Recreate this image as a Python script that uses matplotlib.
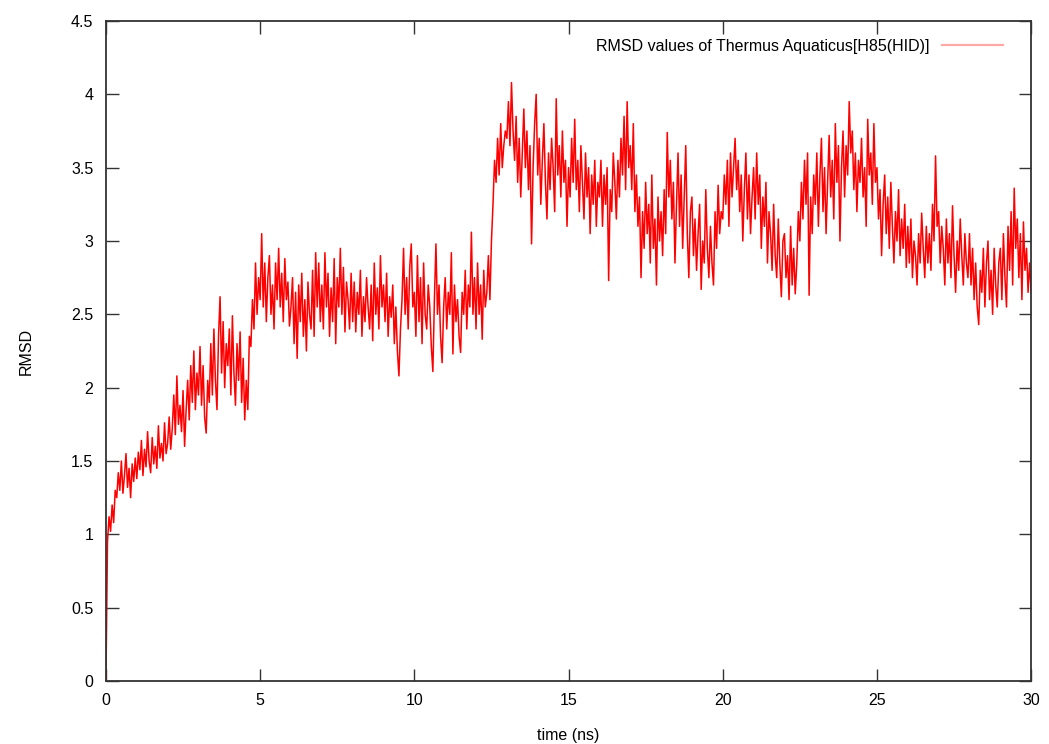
import numpy as np
import matplotlib
matplotlib.use("Agg")
import matplotlib.pyplot as plt

plt.rcParams['font.family'] = ['Liberation Sans', 'DejaVu Sans']

# RMSD, one value per 0.05 ns (each row is 1 ns)
rmsd = [
    0.00, 0.95, 1.12, 1.02, 1.20, 1.08, 1.30, 1.25, 1.42, 1.30, 1.50, 1.28, 1.40, 1.55, 1.32, 1.45, 1.25, 1.48, 1.36, 1.52,
    1.38, 1.56, 1.44, 1.64, 1.40, 1.58, 1.46, 1.70, 1.50, 1.42, 1.66, 1.48, 1.60, 1.45, 1.74, 1.52, 1.62, 1.50, 1.76, 1.55,
    1.62, 1.80, 1.58, 1.72, 1.95, 1.68, 2.08, 1.75, 1.88, 1.70, 1.98, 1.60, 1.85, 2.05, 1.78, 2.15, 1.90, 2.25, 1.85, 2.10,
    1.95, 2.28, 1.88, 2.15, 1.80, 1.69, 2.05, 1.90, 2.30, 1.95, 2.40, 2.05, 1.85, 2.35, 2.62, 2.10, 2.45, 2.00, 2.30, 2.15,
    2.40, 1.95, 2.49, 2.10, 1.88, 2.30, 2.05, 2.38, 1.90, 2.20, 1.78, 2.05, 1.85, 2.35, 2.28, 2.60, 2.40, 2.85, 2.50, 2.75,
    2.60, 3.05, 2.55, 2.85, 2.45, 2.75, 2.90, 2.50, 2.70, 2.40, 2.85, 2.60, 2.95, 2.55, 2.78, 2.45, 2.88, 2.60, 2.72, 2.42,
    2.55, 2.75, 2.30, 2.65, 2.20, 2.70, 2.45, 2.78, 2.35, 2.60, 2.25, 2.72, 2.50, 2.40, 2.80, 2.35, 2.92, 2.55, 2.85, 2.45,
    2.70, 2.40, 2.92, 2.55, 2.78, 2.35, 2.68, 2.45, 2.88, 2.30, 2.75, 2.55, 2.95, 2.50, 2.82, 2.38, 2.72, 2.60, 2.40, 2.78,
    2.45, 2.72, 2.38, 2.65, 2.50, 2.80, 2.35, 2.62, 2.45, 2.75, 2.55, 2.40, 2.70, 2.32, 2.85, 2.50, 2.68, 2.40, 2.90, 2.55,
    2.70, 2.45, 2.78, 2.35, 2.62, 2.48, 2.70, 2.30, 2.55, 2.25, 2.08, 2.40, 2.60, 2.95, 2.50, 2.75, 2.40, 2.82, 2.98, 2.55,
    2.65, 2.35, 2.90, 2.45, 2.75, 2.30, 2.85, 2.50, 2.40, 2.70, 2.55, 2.28, 2.11, 2.60, 2.98, 2.50, 2.70, 2.35, 2.17, 2.55,
    2.75, 2.40, 2.65, 2.50, 2.92, 2.23, 2.70, 2.45, 2.60, 2.35, 2.24, 2.65, 2.50, 2.80, 2.40, 2.70, 2.55, 3.06, 2.50, 2.75,
    2.40, 2.85, 2.50, 2.70, 2.33, 2.80, 2.55, 2.65, 2.90, 2.60, 3.00, 3.25, 3.55, 3.40, 3.70, 3.45, 3.80, 3.50, 3.65, 3.75,
    3.70, 3.95, 3.65, 4.08, 3.75, 3.55, 3.85, 3.40, 3.70, 3.30, 3.60, 3.90, 3.50, 3.75, 3.35, 3.65, 2.98, 3.50, 3.80, 4.00,
    3.45, 3.70, 3.25, 3.55, 3.80, 3.40, 3.15, 3.60, 3.35, 3.70, 3.50, 3.20, 3.97, 3.45, 3.65, 3.30, 3.75, 3.40, 3.55, 3.10,
    3.50, 3.30, 3.70, 3.40, 3.83, 3.35, 3.55, 3.20, 3.65, 3.40, 3.15, 3.60, 3.30, 3.50, 3.05, 3.45, 3.25, 3.55, 3.10, 3.40,
    3.30, 3.55, 3.10, 3.45, 3.25, 3.50, 2.73, 3.35, 3.20, 3.60, 3.40, 3.15, 3.55, 3.30, 3.70, 3.45, 3.85, 3.35, 3.95, 3.50,
    3.65, 3.35, 3.80, 3.20, 3.45, 3.10, 3.30, 2.75, 3.20, 2.95, 3.40, 3.05, 3.25, 2.85, 3.45, 2.95, 3.15, 2.70, 3.30, 3.00,
    3.20, 2.90, 3.35, 3.05, 3.74, 3.30, 3.55, 3.15, 3.40, 2.85, 3.25, 3.60, 3.10, 3.45, 2.95, 3.30, 3.65, 3.05, 2.75, 3.20,
    3.30, 2.90, 3.15, 2.80, 3.05, 3.25, 2.67, 3.00, 2.85, 3.35, 2.95, 2.75, 3.10, 2.85, 2.70, 3.20, 2.95, 3.38, 3.05, 3.20,
    3.15, 3.45, 3.25, 3.55, 3.10, 3.60, 3.30, 3.50, 3.70, 3.35, 3.55, 3.20, 3.45, 3.00, 3.35, 3.60, 3.15, 3.45, 3.05, 3.30,
    3.50, 3.15, 3.60, 3.25, 3.45, 2.95, 3.30, 3.10, 3.40, 2.85, 3.20, 3.05, 2.80, 3.25, 2.90, 2.75, 3.15, 2.85, 2.62, 3.00,
    3.05, 2.75, 2.90, 2.60, 3.10, 2.70, 2.95, 2.64, 2.85, 3.20, 3.00, 3.40, 3.15, 3.55, 3.25, 3.60, 2.63, 3.30, 3.05, 3.45,
    3.25, 3.60, 3.10, 3.45, 3.70, 3.20, 3.50, 3.05, 3.40, 3.72, 3.30, 3.55, 3.15, 3.80, 3.40, 3.65, 3.00, 3.50, 3.75, 3.30,
    3.65, 3.45, 3.95, 3.60, 3.75, 3.35, 3.60, 3.20, 3.55, 3.40, 3.70, 3.30, 3.50, 3.10, 3.83, 3.45, 3.60, 3.25, 3.80, 3.40,
    3.50, 3.15, 3.35, 2.90, 3.25, 3.45, 3.05, 3.30, 2.95, 3.40, 3.10, 2.85, 3.20, 3.00, 3.35, 2.90, 3.15, 2.95, 3.25, 2.82,
    3.10, 2.85, 3.15, 2.75, 3.00, 2.90, 2.70, 3.05, 2.85, 3.19, 2.95, 2.75, 3.10, 2.85, 3.05, 2.80, 3.25, 3.00, 3.58, 3.10,
    3.20, 2.85, 3.10, 2.95, 2.70, 3.15, 2.85, 3.05, 2.75, 3.24, 2.90, 2.65, 3.00, 2.80, 3.15, 2.90, 2.70, 3.05, 2.85, 2.75,
    3.05, 2.70, 2.95, 2.60, 2.85, 2.55, 2.43, 2.80, 2.65, 2.95, 2.55, 2.85, 3.00, 2.60, 2.80, 2.50, 2.95, 2.70, 2.55, 2.85,
    2.95, 2.60, 3.05, 2.75, 2.55, 3.10, 2.80, 3.20, 2.70, 3.36, 2.95, 3.15, 2.75, 3.05, 2.60, 3.13, 2.80, 2.95, 2.65, 2.85,
    2.65,
]
time_ns = np.linspace(0, 30, len(rmsd))

xticks = [0, 5, 10, 15, 20, 25, 30]
yticks = [0, 0.5, 1, 1.5, 2, 2.5, 3, 3.5, 4, 4.5]
label = 'RMSD values of Thermus Aquaticus[H85(HID)]'

fig = plt.figure(figsize=(10.49, 7.44), dpi=100)
ax = fig.add_axes([0.101, 0.0847, 0.882, 0.8871])

ax.plot(time_ns, rmsd, color='#ff0000', lw=1.1, label=label)

ax.set_xlim(0, 30)
ax.set_ylim(0, 4.5)
ax.set_xticks(xticks)
ax.set_xticklabels([str(x) for x in xticks])
ax.set_yticks(yticks)
ax.set_yticklabels(['0', '0.5', '1', '1.5', '2', '2.5', '3', '3.5', '4', '4.5'])
ax.tick_params(direction='in', length=9, width=1, color='#333333',
               top=True, right=True, labelsize=11.5, pad=9)
for s in ax.spines.values():
    s.set_color('#333333')
    s.set_linewidth(1.3)

ax.set_xlabel('time (ns)', fontsize=11.5, labelpad=14)
ax.set_ylabel('RMSD', fontsize=11.5, labelpad=27)

leg = ax.legend(loc='upper right', bbox_to_anchor=(0.985, 0.995), frameon=False,
                markerfirst=False, handlelength=3.8, handletextpad=0.8,
                fontsize=11.5)
for h in leg.get_lines():
    h.set_color('#ffa8a8')
    h.set_linewidth(1.6)

fig.savefig('out.png', dpi=100)
